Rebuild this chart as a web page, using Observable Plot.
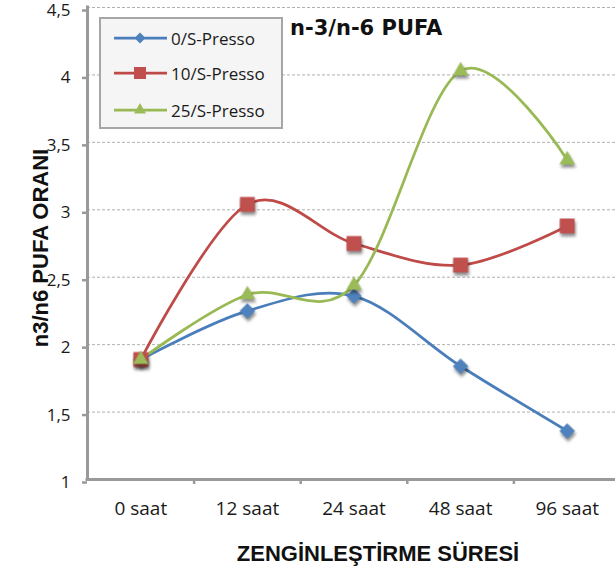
<!DOCTYPE html>
<html>
<head>
<meta charset="utf-8">
<script src="https://cdn.jsdelivr.net/npm/d3@7"></script>
<script src="https://cdn.jsdelivr.net/npm/@observablehq/plot@0.6"></script>
<style>
  html, body { margin: 0; padding: 0; background: #fff; }
  #chart { position: relative; width: 615px; height: 578px; overflow: hidden; font-family: "Open Sans", sans-serif; color: #1a1a1a; }
  #chart svg.plot { position: absolute; left: 0; top: 0; }
  .title { position: absolute; left: 290px; top: 18px; font: bold 21px/21px "DejaVu Sans", sans-serif; white-space: nowrap; color: #111; }
  .xtitle { position: absolute; left: 378px; top: 543px; transform: translateX(-50%); font: bold 22px/22px "Liberation Sans", Arial, sans-serif; white-space: nowrap; color: #111; }
  .ytitle { position: absolute; left: 41px; top: 248px; transform: translate(-50%, -50%) rotate(-90deg); font: bold 22px/22px "Liberation Sans", Arial, sans-serif; white-space: nowrap; color: #111; }
  .legend { position: absolute; left: 99px; top: 17px; width: 184px; height: 112px; box-sizing: border-box; border: 2px solid #a6a6a6; background: #f5f5f5; }
  .legend .item { position: absolute; left: 0; height: 20px; display: flex; align-items: center; font-size: 17px; white-space: nowrap; }
  .legend svg { display: block; }
</style>
</head>
<body>
<div id="chart"></div>
<script>
// Enrichment time points (x categories)
const categories = ["0 saat", "12 saat", "24 saat", "48 saat", "96 saat"];

// Series names
const seriesNames = ["0/S-Presso", "10/S-Presso", "25/S-Presso"];

// n-3/n-6 PUFA ratio per series, one value per time point
const presso0 = [1.89, 2.25, 2.36, 1.84, 1.36];
const presso10 = [1.89, 3.04, 2.75, 2.59, 2.88];
const presso25 = [1.89, 2.37, 2.44, 4.03, 3.37];

// Y axis tick values
const yTicks = [1, 1.5, 2, 2.5, 3, 3.5, 4, 4.5];

// Series styling
const lineColors = ["#4A7EBB", "#BE4B48", "#98B954"];
const markerColors = ["#4F81BD", "#C0504D", "#9BBB59"];
const symbols = ["diamond2", "square", "triangle"];
const markerR = [7, 8.4, 5.8];

const seriesValues = [presso0, presso10, presso25];
const rows = seriesNames.flatMap((s, k) =>
  seriesValues[k].map((v, i) => ({series: s, i, value: v}))
);

const xDomain = [-0.5, categories.length - 0.5];
const boundaries = categories.slice(1).map((_, i) => i + 0.5);
const fmt = d => String(d).replace(".", ",");

const plot = Plot.plot({
  width: 615,
  height: 578,
  marginLeft: 87,
  marginRight: -5,
  marginTop: 7,
  marginBottom: 99,
  style: {fontFamily: "'Open Sans', sans-serif", color: "#1a1a1a", background: "transparent", overflow: "visible"},
  x: {domain: xDomain, label: null},
  y: {domain: [yTicks[0], yTicks[yTicks.length - 1]], label: null},
  color: {domain: seriesNames, range: lineColors},
  symbol: {domain: seriesNames, range: symbols},
  marks: [
    // dashed horizontal gridlines
    Plot.ruleY(yTicks.slice(1), {stroke: "#b0b0b0", strokeWidth: 1, strokeDasharray: "3,2"}),
    // y axis ticks and labels
    Plot.axisY({ticks: yTicks, tickSize: 5, tickPadding: 12, tickFormat: fmt, stroke: "#999", strokeWidth: 2.5, fill: "#1a1a1a", fontSize: 17, dy: 3, label: null}),
    // x axis category labels
    Plot.axisX({ticks: categories.map((_, i) => i), tickSize: 0, tickPadding: 22, tickFormat: i => categories[i], fill: "#1a1a1a", fontSize: 19, label: null}),
    // x axis tick marks between categories
    Plot.axisX({ticks: boundaries, tickSize: 5, tickFormat: () => "", fill: null, stroke: "#999", strokeWidth: 2.5, label: null}),
    // axis lines
    Plot.ruleX([xDomain[0]], {stroke: "#999", strokeWidth: 3, strokeLinecap: "square"}),
    Plot.ruleY([yTicks[0]], {stroke: "#999", strokeWidth: 3, strokeLinecap: "square"}),
    // smoothed series lines
    Plot.line(rows, {x: "i", y: "value", z: "series", stroke: "series", curve: "cardinal", strokeWidth: 2.75}),
    // markers
    ...seriesNames.map((s, k) =>
      Plot.dot(rows.filter(d => d.series === s), {x: "i", y: "value", symbol: "series", fill: markerColors[k], stroke: "none", r: markerR[k]})
    )
  ]
});
plot.classList.add("plot");

// soft shadow under the markers
d3.select(plot).selectAll('g[aria-label="dot"]').style("filter", "drop-shadow(1px 3px 1.5px rgba(0,0,0,0.45))");

const chart = document.getElementById("chart");
chart.appendChild(plot);

// titles
const title = document.createElement("div");
title.className = "title";
title.textContent = "n-3/n-6 PUFA";
chart.appendChild(title);

const xt = document.createElement("div");
xt.className = "xtitle";
xt.textContent = "ZENGİNLEŞTİRME SÜRESİ";
chart.appendChild(xt);

const yt = document.createElement("div");
yt.className = "ytitle";
yt.textContent = "n3/n6 PUFA ORANI";
chart.appendChild(yt);

// legend
const legend = d3.select(chart).append("div").attr("class", "legend");
const legendSymbols = [d3.symbolDiamond2, d3.symbolSquare, d3.symbolTriangle];
const legendSizes = [77, 144, 62];
const rowTops = [9, 44, 81];
seriesNames.forEach((s, k) => {
  const item = legend.append("div").attr("class", "item").style("top", rowTops[k] + "px");
  const sw = item.append("svg").attr("width", 70).attr("height", 20);
  sw.append("line").attr("x1", 13).attr("x2", 66).attr("y1", 10).attr("y2", 10)
    .attr("stroke", lineColors[k]).attr("stroke-width", 2.75);
  sw.append("path").attr("d", d3.symbol(legendSymbols[k], legendSizes[k])())
    .attr("transform", "translate(39,10)").attr("fill", markerColors[k]);
  item.append("span").text(s);
});
</script>
</body>
</html>
